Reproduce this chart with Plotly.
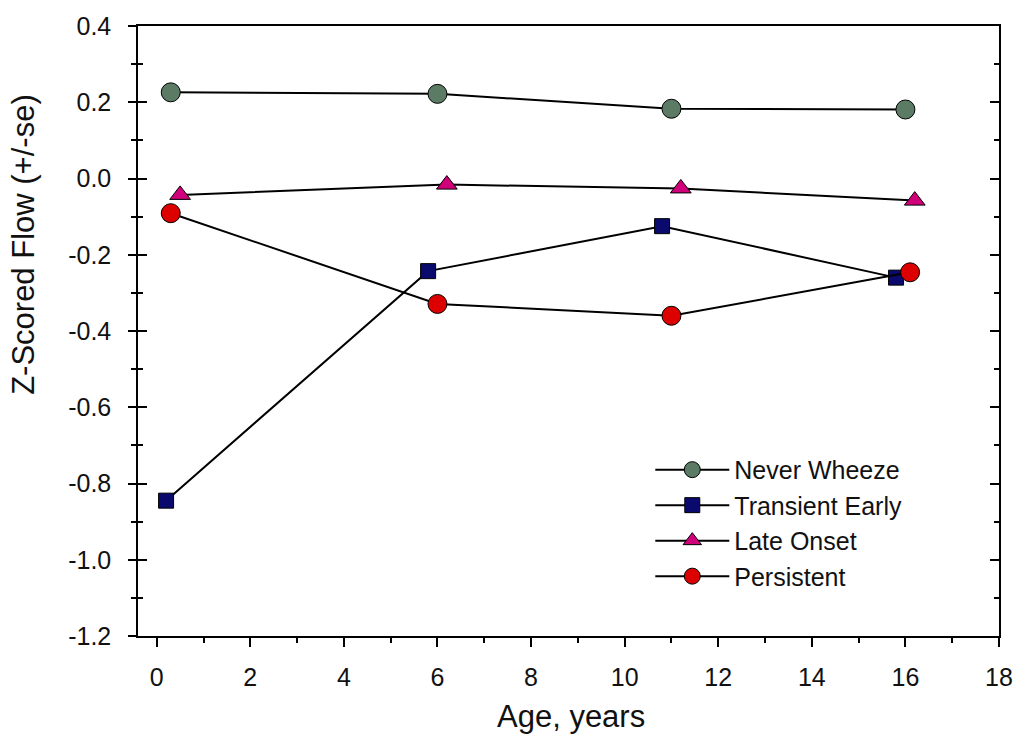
import plotly.graph_objects as go

# Data
never_x = [0.3, 6.0, 11.0, 16.0]
never_y = [0.226, 0.222, 0.183, 0.181]
trans_x = [0.2, 5.8, 10.8, 15.8]
trans_y = [-0.845, -0.243, -0.125, -0.260]
late_x = [0.5, 6.2, 11.2, 16.2]
late_y = [-0.043, -0.016, -0.026, -0.058]
pers_x = [0.3, 6.0, 11.0, 16.1]
pers_y = [-0.091, -0.329, -0.360, -0.246]

x_ticks = [0, 2, 4, 6, 8, 10, 12, 14, 16, 18]
x_minor = [1, 3, 5, 7, 9, 11, 13, 15, 17]
y_ticks = [-1.2, -1.0, -0.8, -0.6, -0.4, -0.2, 0.0, 0.2, 0.4]
y_labels = ["-1.2", "-1.0", "-0.8", "-0.6", "-0.4", "-0.2", "0.0", "0.2", "0.4"]
y_minor = [-1.1, -0.9, -0.7, -0.5, -0.3, -0.1, 0.1, 0.3]

FONT = "Arial, Liberation Sans, sans-serif"
fig = go.Figure()

def add(x, y, name, symbol, color, size):
    fig.add_trace(go.Scatter(
        x=x, y=y, name=name, mode="lines+markers",
        line=dict(color="black", width=2),
        marker=dict(symbol=symbol, color=color, size=size,
                    line=dict(color="black", width=1)),
    ))

add(never_x, never_y, "Never Wheeze", "circle", "#5B7B65", 19)
add(trans_x, trans_y, "Transient Early", "square", "#0A0A6E", 15)
add(late_x, late_y, "Late Onset", "triangle-up", "#D0007A", 18)
add(pers_x, pers_y, "Persistent", "circle", "#DD0000", 19)

# invisible traces for the extra tick axes
fig.add_trace(go.Scatter(x=[0], y=[0], yaxis="y2", showlegend=False,
                         mode="markers", marker=dict(opacity=0), hoverinfo="skip"))
fig.add_trace(go.Scatter(x=[0], y=[0], yaxis="y3", showlegend=False,
                         mode="markers", marker=dict(opacity=0), hoverinfo="skip"))

yr = [-1.2, 0.4]
tick_common = dict(tickwidth=1.5, tickcolor="black")
fig.update_layout(
    width=1025, height=737,
    margin=dict(l=138, r=22, t=22, b=101),
    plot_bgcolor="white", paper_bgcolor="white",
    font=dict(family=FONT, size=25, color="#111111"),
    showlegend=True,
    legend=dict(x=0.595, y=0.31, xanchor="left", yanchor="top",
                font=dict(size=25, family=FONT), bgcolor="rgba(0,0,0,0)",
                tracegroupgap=0, itemwidth=74),
    xaxis=dict(range=[-0.4, 18], tickmode="array", tickvals=x_ticks,
               ticks="outside", ticklen=9, **tick_common,
               minor=dict(tickmode="array", tickvals=x_minor,
                          ticks="outside", ticklen=5, **tick_common),
               showline=True, linecolor="black", linewidth=1.5, mirror=True,
               showgrid=False, zeroline=False, ticklabelstandoff=9,
               tickfont=dict(size=25)),
    yaxis=dict(range=yr, tickmode="array", tickvals=y_ticks, ticktext=y_labels,
               ticks="outside", ticklen=8, **tick_common,
               minor=dict(tickmode="array", tickvals=y_minor,
                          ticks="outside", ticklen=5, **tick_common),
               showline=True, linecolor="black", linewidth=1.5,
               showgrid=False, zeroline=False, ticklabelstandoff=12,
               tickfont=dict(size=25)),
    yaxis2=dict(range=yr, overlaying="y", side="right", tickmode="array",
                tickvals=y_ticks, ticks="inside", ticklen=9, **tick_common,
                minor=dict(tickmode="array", tickvals=y_minor,
                           ticks="inside", ticklen=5, **tick_common),
                showticklabels=False, showline=True, linecolor="black", linewidth=1.5,
                showgrid=False, zeroline=False),
    yaxis3=dict(range=yr, overlaying="y", side="left", tickmode="array",
                tickvals=y_ticks, ticks="inside", ticklen=9, **tick_common,
                minor=dict(tickmode="array", tickvals=y_minor,
                           ticks="inside", ticklen=5, **tick_common),
                showticklabels=False, showline=False,
                showgrid=False, zeroline=False),
    annotations=[
        dict(text="Age, years", xref="paper", yref="paper", x=0.503, y=-0.132,
             xanchor="center", yanchor="middle", showarrow=False,
             font=dict(size=31, family=FONT, color="#111111")),
        dict(text="Z-Scored Flow (+/-se)", xref="paper", yref="paper", x=-0.133, y=0.642,
             xanchor="center", yanchor="middle", showarrow=False, textangle=-90,
             font=dict(size=31, family=FONT, color="#111111")),
    ],
)

fig.write_html(
    "out.html",
    config={"displayModeBar": False},
    post_script="document.body.style.margin='0';document.body.style.overflow='hidden';",
)
